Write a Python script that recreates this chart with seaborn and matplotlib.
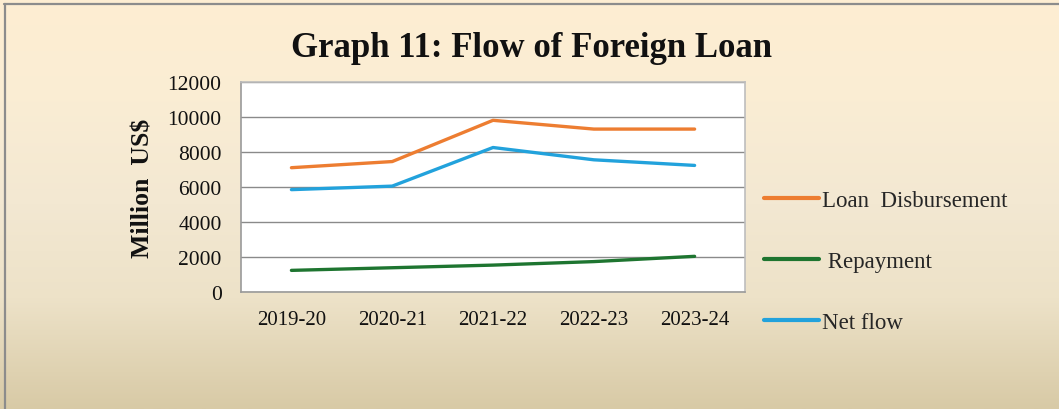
import numpy as np
import pandas as pd
import matplotlib
matplotlib.use("Agg")
import matplotlib.pyplot as plt
from matplotlib.colors import LinearSegmentedColormap
from matplotlib.lines import Line2D
import seaborn as sns

years = ["2019-20", "2020-21", "2021-22", "2022-23", "2023-24"]
loan_disbursement = [7100, 7450, 9800, 9300, 9300]
repayment = [1250, 1400, 1550, 1750, 2050]
net_flow = [5850, 6050, 8250, 7550, 7230]
series_names = ["Loan  Disbursement", " Repayment", "Net flow"]
y_ticks = [0, 2000, 4000, 6000, 8000, 10000, 12000]

df = pd.DataFrame({
    "Year": years * 3,
    "Value": loan_disbursement + repayment + net_flow,
    "Series": [series_names[0]] * 5 + [series_names[1]] * 5 + [series_names[2]] * 5,
})

sns.set_theme(style="white")
plt.rcParams["font.family"] = ["Liberation Serif", "DejaVu Serif"]

fig = plt.figure(figsize=(10.59, 4.10), dpi=100)

# background gradient
bg = fig.add_axes([0, 0, 1, 1], zorder=-10)
cmap = LinearSegmentedColormap.from_list(
    "bg", [(0.0, "#FEEED2"), (0.25, "#FAEDD4"), (0.5, "#F3E8D2"),
           (0.73, "#EDE2C8"), (1.0, "#D8CAA6")])
grad = np.linspace(0, 1, 256).reshape(-1, 1)
bg.imshow(grad, aspect="auto", cmap=cmap, extent=[0, 1, 0, 1], origin="upper")
bg.set_axis_off()

# outer border (top and left)
fig.add_artist(Line2D([0.004, 1.0], [0.989, 0.989], color="#8C8C8C", lw=1.6,
                      transform=fig.transFigure))
fig.add_artist(Line2D([0.005, 0.005], [0.0, 0.989], color="#8C8C8C", lw=1.6,
                      transform=fig.transFigure))

ax = fig.add_axes([0.2276, 0.2846, 0.4759, 0.5137])
ax.set_facecolor("white")

palette = {series_names[0]: "#ED7D31", series_names[1]: "#1E7530", series_names[2]: "#22A2DC"}
sns.lineplot(data=df, x="Year", y="Value", hue="Series", palette=palette,
             linewidth=2.4, sort=False, ax=ax)

ax.set_xlim(-0.5, 4.5)
ax.set_ylim(0, 12000)
ax.set_yticks(y_ticks)
ax.set_yticklabels([str(v) for v in y_ticks])
ax.yaxis.grid(True, color="#8A8A8A", linewidth=1.0)
ax.xaxis.grid(False)
ax.set_axisbelow(True)
ax.tick_params(axis="x", length=0, pad=13, labelsize=15)
ax.tick_params(axis="y", length=0, pad=14, labelsize=15.5)
for lbl in ax.get_xticklabels() + ax.get_yticklabels():
    lbl.set_color("#111111")
for side, sp in ax.spines.items():
    sp.set_color("#BDBDBD")
    sp.set_linewidth(1.2)
ax.spines["left"].set_color("#9A9A9A")
ax.spines["bottom"].set_color("#9A9A9A")

ax.set_xlabel("")
ax.set_ylabel("Million  US$", fontsize=18.5, fontweight="bold", labelpad=9, color="#111111")

handles, labels = ax.get_legend_handles_labels()
ax.legend(handles, labels, loc="upper left", bbox_to_anchor=(1.02, 0.53),
          frameon=False, fontsize=16.5, handlelength=2.4, handletextpad=0.12,
          labelspacing=1.75, borderaxespad=0)
for l in ax.get_legend().get_lines():
    l.set_linewidth(3)

fig.text(0.502, 0.882, "Graph 11: Flow of Foreign Loan", ha="center", va="center",
         fontsize=25, fontweight="bold", color="#111111")

fig.savefig("out.png", dpi=100)
